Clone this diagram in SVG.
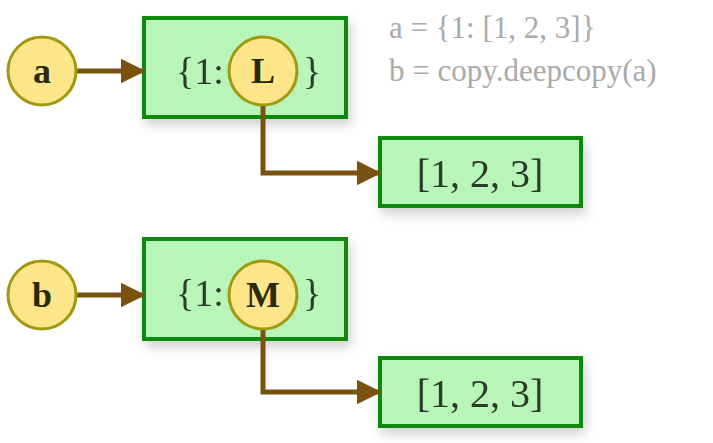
<svg xmlns="http://www.w3.org/2000/svg" width="713" height="443" viewBox="0 0 713 443">
<defs>
<style>
.box{fill:#b8f5b8;stroke:#0a8a0a;stroke-width:4}
.c{fill:#fde58a;stroke:#a09a10;stroke-width:3}
.t{font-family:"Liberation Serif",serif;fill:#2a3a2a;text-anchor:middle}
.bt{font-family:"Liberation Serif",serif;font-weight:bold;fill:#2a2a10;text-anchor:middle;font-size:36px}
.e{fill:none;stroke:#7a5210;stroke-width:5}
.code{font-family:"Liberation Serif",serif;fill:#aaa;font-size:31px}
</style>
<marker id="arr" viewBox="0 0 10 10" refX="9" refY="5" markerWidth="5" markerHeight="5" orient="auto"><path d="M0,0L10,5L0,10z" fill="#7a5210"/></marker>
<filter id="sh" x="-20%" y="-20%" width="150%" height="160%"><feDropShadow dx="3" dy="6" stdDeviation="6" flood-opacity="0.18"/></filter>
</defs>
<g id="code">
<text class="code" x="389" y="38">a = {1: [1, 2, 3]}</text>
<text class="code" x="389" y="81">b = copy.deepcopy(a)</text>
</g>
<g id="dictA" filter="url(#sh)"><rect class="box" x="144" y="18" width="202" height="99"/><text class="t" x="200" y="84" font-size="38">{1:</text><text class="t" x="312" y="84" font-size="38">}</text></g>
<g id="listA" filter="url(#sh)"><rect class="box" x="380" y="138" width="201" height="68"/><text class="t" x="480" y="187" font-size="40">[1, 2, 3]</text></g>
<g id="dictB" filter="url(#sh)"><rect class="box" x="144" y="239" width="202" height="100"/><text class="t" x="200" y="306" font-size="38">{1:</text><text class="t" x="312" y="306" font-size="38">}</text></g>
<g id="listB" filter="url(#sh)"><rect class="box" x="380" y="358" width="201" height="68"/><text class="t" x="480" y="407" font-size="40">[1, 2, 3]</text></g>
<g id="connectors">
<path class="e" d="M77,71H143" marker-end="url(#arr)"/>
<path class="e" d="M263,105V173H379" marker-end="url(#arr)"/>
<path class="e" d="M77,295H143" marker-end="url(#arr)"/>
<path class="e" d="M263,329V392H379" marker-end="url(#arr)"/>
</g>
<g id="a"><circle class="c" cx="42" cy="71" r="34"/><text class="bt" x="42" y="83">a</text></g>
<g id="L"><circle class="c" cx="263" cy="71" r="34"/><text class="bt" x="263" y="83">L</text></g>
<g id="b"><circle class="c" cx="42" cy="295" r="34"/><text class="bt" x="42" y="307">b</text></g>
<g id="M"><circle class="c" cx="263" cy="295" r="34"/><text class="bt" x="263" y="307">M</text></g>
</svg>
